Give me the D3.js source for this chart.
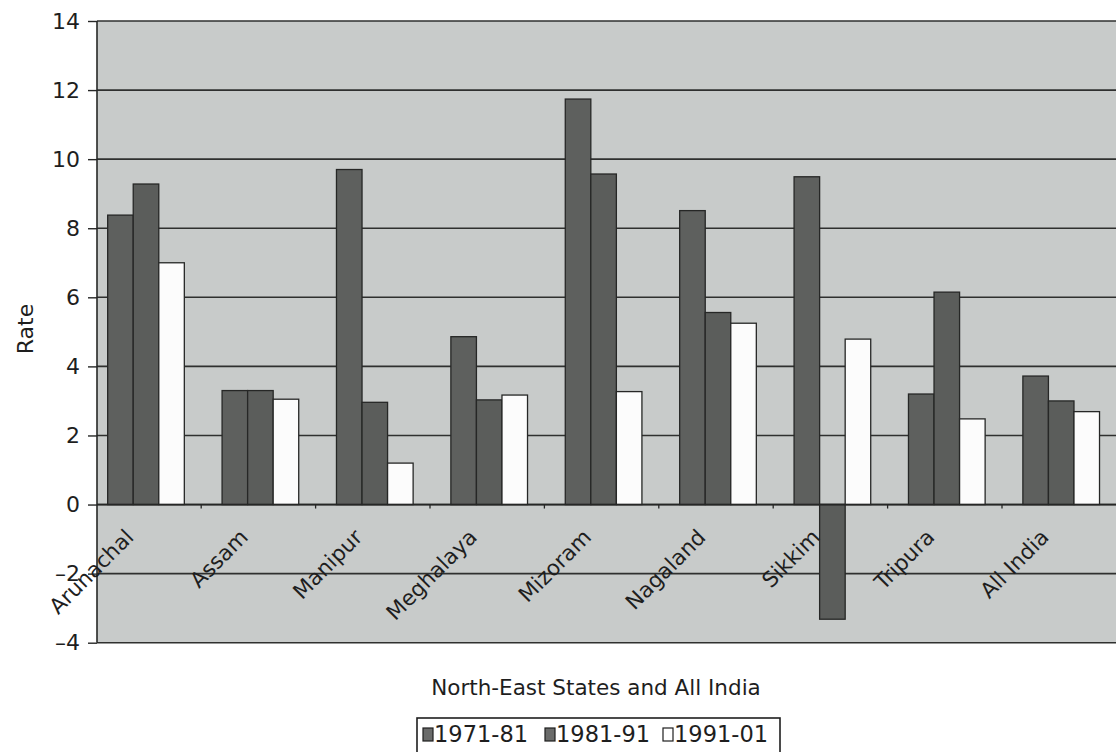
<!DOCTYPE html>
<html>
<head>
<meta charset="utf-8">
<script src="https://cdn.jsdelivr.net/npm/d3@7/dist/d3.min.js"></script>
<style>
  html, body { margin: 0; padding: 0; background: #ffffff; }
  svg { display: block; }
  text { font-family: "DejaVu Sans", sans-serif; fill: #1e1e1e; }
</style>
</head>
<body>
<svg id="chart" width="1116" height="752"></svg>
<script>
const categories = ["Arunachal", "Assam", "Manipur", "Meghalaya", "Mizoram", "Nagaland", "Sikkim", "Tripura", "All India"];
const seriesNames = ["1971-81", "1981-91", "1991-01"];
const values1971_81 = [8.38, 3.3, 9.7, 4.86, 11.74, 8.51, 9.49, 3.2, 3.72];
const values1981_91 = [9.28, 3.3, 2.96, 3.03, 9.57, 5.56, -3.32, 6.15, 3.0];
const values1991_01 = [7.0, 3.05, 1.2, 3.17, 3.27, 5.25, 4.79, 2.48, 2.69];
const yTickValues = [-4, -2, 0, 2, 4, 6, 8, 10, 12, 14];
const yAxisTitle = "Rate";
const xAxisTitle = "North-East States and All India";

const seriesColors = ["#5e605e", "#5b5d5b", "#fcfcfc"];
const seriesValues = [values1971_81, values1981_91, values1991_01];

const W = 1116, H = 752;
const plotLeft = 97, plotRight = 1116, plotTop = 21, plotBottom = 642.7;

const svg = d3.select("#chart");

const step = 114.4;
const x0 = d3.scaleBand().domain(categories)
  .range([88.8, 88.8 + step * categories.length])
  .paddingInner(0.33).paddingOuter(0.165);
const x1 = d3.scaleBand().domain(seriesNames).range([0, x0.bandwidth()]).padding(0);
const y = d3.scaleLinear().domain([-4, 14]).range([plotBottom, plotTop]);

// plot background
svg.append("rect")
  .attr("x", plotLeft).attr("y", plotTop)
  .attr("width", plotRight - plotLeft).attr("height", plotBottom - plotTop)
  .attr("fill", "#c8cbca");

// gridlines
svg.append("g").selectAll("line").data(yTickValues).join("line")
  .attr("x1", plotLeft).attr("x2", plotRight)
  .attr("y1", d => y(d)).attr("y2", d => y(d))
  .attr("stroke", "#2f302f").attr("stroke-width", 1.6);

// bars
const table = categories.map((c, i) => ({
  cat: c,
  vals: seriesNames.map((s, j) => ({ s, j, v: seriesValues[j][i] }))
}));

const groups = svg.append("g").selectAll("g").data(table).join("g")
  .attr("transform", d => `translate(${x0(d.cat)},0)`);

groups.selectAll("rect").data(d => d.vals).join("rect")
  .attr("x", d => x1(d.s))
  .attr("width", x1.bandwidth())
  .attr("y", d => y(Math.max(0, d.v)))
  .attr("height", d => Math.abs(y(d.v) - y(0)))
  .attr("fill", d => seriesColors[d.j])
  .attr("stroke", "#262726").attr("stroke-width", 1.3);

// zero line on top
svg.append("line")
  .attr("x1", plotLeft).attr("x2", plotRight)
  .attr("y1", y(0)).attr("y2", y(0))
  .attr("stroke", "#262726").attr("stroke-width", 1.8);

// x category boundary ticks
const boundaries = categories.slice(0, -1).map(c => x0(c) + x0.bandwidth() + x0.step() * x0.paddingInner() / 2 - 2);
svg.append("g").selectAll("line").data(boundaries).join("line")
  .attr("x1", d => d).attr("x2", d => d)
  .attr("y1", y(0)).attr("y2", y(0) + 4)
  .attr("stroke", "#262726").attr("stroke-width", 1.3);

// y axis
const yAxis = d3.axisLeft(y).tickValues(yTickValues).tickSize(9).tickPadding(8)
  .tickFormat(d => d < 0 ? "\u2013" + Math.abs(d) : String(d));
const yg = svg.append("g").attr("transform", `translate(${plotLeft},0)`).call(yAxis);
yg.select(".domain").attr("stroke", "#262726").attr("stroke-width", 1.6)
  .attr("d", `M0,${plotTop}V${plotBottom}`);
yg.selectAll(".tick line").attr("stroke", "#262726").attr("stroke-width", 1.4);
yg.selectAll(".tick text")
  .style("font-family", "'DejaVu Sans', sans-serif")
  .style("font-size", "22px").attr("fill", "#1e1e1e");

// category labels
svg.append("g").selectAll("text").data(categories).join("text")
  .attr("text-anchor", "end")
  .attr("transform", d => `translate(${x0(d) + x0.bandwidth() / 2 - 11},${y(0) + 34}) rotate(-45)`)
  .style("font-size", "21.5px")
  .attr("fill", "#2a2a2a")
  .text(d => d);

// y axis title
svg.append("text")
  .attr("transform", "translate(33,329) rotate(-90)")
  .attr("text-anchor", "middle")
  .style("font-size", "22px")
  .text(yAxisTitle);

// x axis title
svg.append("text")
  .attr("x", 596).attr("y", 695)
  .attr("text-anchor", "middle")
  .style("font-size", "21.5px")
  .text(xAxisTitle);

// legend
svg.append("rect")
  .attr("x", 417).attr("y", 718).attr("width", 363).attr("height", 40)
  .attr("fill", "#ffffff").attr("stroke", "#1e1e1e").attr("stroke-width", 1.6);
const legendX = [423, 545, 663];
const lg = svg.append("g").selectAll("g").data(seriesNames).join("g")
  .attr("transform", (d, i) => `translate(${legendX[i]},0)`);
lg.append("rect")
  .attr("x", 0).attr("y", 728).attr("width", 10).attr("height", 13)
  .attr("fill", (d, i) => i === 2 ? "#ffffff" : "#6a6b6a")
  .attr("stroke", "#1e1e1e").attr("stroke-width", 1.2);
lg.append("text")
  .attr("x", 11).attr("y", 742)
  .style("font-size", "22.5px")
  .text(d => d);
</script>
</body>
</html>
